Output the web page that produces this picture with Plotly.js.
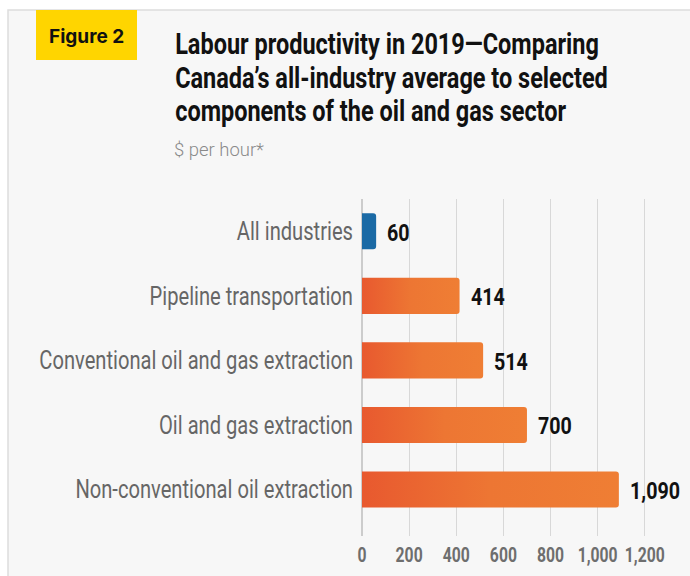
<!DOCTYPE html>
<html>
<head>
<meta charset="utf-8">
<script src="https://cdn.plot.ly/plotly-3.0.1.min.js"></script>
<style>
  html, body { margin: 0; padding: 0; background: #ffffff; }
  #chart { width: 690px; height: 576px; }
</style>
</head>
<body>
<div id="chart"></div>
<script>
// Labour productivity by industry, 2019 ($ per hour)
const categories = [
  'All industries',
  'Pipeline transportation',
  'Conventional oil and gas extraction',
  'Oil and gas extraction',
  'Non-conventional oil extraction'
];
const values = [60, 414, 514, 700, 1090];
const valueLabels = ['60', '414', '514', '700', '1,090'];
const groups = ['all', 'oil', 'oil', 'oil', 'oil'];
const xTickVals = [0, 200, 400, 600, 800, 1000, 1200];
const titleLines = [
  'Labour productivity in 2019\u2014Comparing',
  'Canada\u2019s all-industry average to selected',
  'components of the oil and gas sector'
];

const groupColors = { all: '#1b6aa5', oil: '#ec6a31' };
const FONT = 'Roboto, "Liberation Sans", Arial, sans-serif';

// plot area in pixels
const W = 690, H = 576;
const M = { l: 362, r: 24, t: 199, b: 40 };
const PW = W - M.l - M.r, PH = H - M.t - M.b;
const px2x = p => (p - M.l) / PW;
const px2y = p => (H - M.b - p) / PH;

const trace = {
  type: 'bar',
  orientation: 'h',
  y: categories,
  x: values,
  cliponaxis: false,
  marker: { color: groups.map(g => groupColors[g]), line: { width: 0 } },
  hoverinfo: 'skip'
};

// title, one annotation per line with tight leading
const TITLE_TOP = 44, TITLE_LEAD = 33.6;
const titleNotes = titleLines.map((t, i) => ({
  text: t, xref: 'paper', yref: 'paper',
  x: px2x(173), y: px2y(TITLE_TOP + i * TITLE_LEAD),
  xanchor: 'left', yanchor: 'middle', showarrow: false,
  font: { family: FONT, size: 29, color: '#111111', weight: 700 }
}));

// value labels sit just past the end of each bar
const valueNotes = values.map((v, i) => ({
  x: v, y: categories[i], xref: 'x', yref: 'y',
  text: valueLabels[i], showarrow: false,
  xanchor: 'left', yanchor: 'middle', xshift: 9, yshift: -2,
  font: { family: FONT, size: 23, color: '#111111', weight: 700 }
}));

const layout = {
  width: W,
  height: H,
  margin: M,
  paper_bgcolor: '#ffffff',
  plot_bgcolor: 'rgba(0,0,0,0)',
  showlegend: false,
  bargap: 0.44,
  barcornerradius: 3,
  xaxis: {
    range: [0, 1290],
    tickvals: xTickVals,
    tickformat: ',',
    tickangle: 0,
    showgrid: true,
    gridcolor: '#d8d8d8',
    gridwidth: 1,
    zeroline: true,
    zerolinecolor: '#cccccc',
    zerolinewidth: 1.5,
    showline: false,
    ticks: '',
    ticklabelstandoff: 4,
    tickfont: { family: FONT, size: 21, color: '#6e6e6e', weight: 700 },
    fixedrange: true
  },
  yaxis: {
    type: 'category',
    range: [4.72, -0.5],
    showgrid: false,
    zeroline: false,
    showline: false,
    ticks: '',
    ticklabelstandoff: 8,
    tickfont: { family: FONT, size: 25, color: '#666666' },
    fixedrange: true
  },
  shapes: [
    // light panel behind the chart
    {
      type: 'rect', xref: 'paper', yref: 'paper', layer: 'below',
      x0: px2x(8), x1: px2x(720), y0: px2y(10), y1: px2y(600),
      fillcolor: '#f7f7f7', line: { color: '#dddddd', width: 1.5 }
    },
    // "Figure 2" tag
    {
      type: 'rect', xref: 'paper', yref: 'paper', layer: 'below',
      x0: px2x(36), x1: px2x(137), y0: px2y(10), y1: px2y(60),
      fillcolor: '#ffd500', line: { width: 0 }
    }
  ],
  annotations: [
    {
      text: 'Figure 2', xref: 'paper', yref: 'paper',
      x: px2x(86.5), y: px2y(36), xanchor: 'center', yanchor: 'middle',
      showarrow: false,
      font: { family: 'Inter, Roboto, sans-serif', size: 19, color: '#111111', weight: 700 }
    },
    {
      text: '$ per hour*', xref: 'paper', yref: 'paper',
      x: px2x(172), y: px2y(149), xanchor: 'left', yanchor: 'middle',
      showarrow: false,
      font: { family: FONT, size: 19, color: '#8a8a8a', weight: 300 }
    }
  ].concat(titleNotes, valueNotes)
};

// Narrow a text element horizontally, holding one edge (or its centre) in place.
function condense(el, s, hold) {
  const b = el.getBBox();
  const ax = hold === 'left' ? b.x : hold === 'right' ? b.x + b.width : b.x + b.width / 2;
  const t = el.getAttribute('transform') || '';
  el.setAttribute('transform', `${t} translate(${ax},0) scale(${s},1) translate(${-ax},0)`);
}
function widest(els) {
  return Math.max(...els.map(e => e.getBBox().width));
}

Plotly.newPlot('chart', [trace], layout, { staticPlot: true, displayModeBar: false }).then(gd => {
  const svg = gd.querySelector('svg.main-svg');
  const ns = 'http://www.w3.org/2000/svg';

  // horizontal red-to-orange shading on the oil and gas bars
  let defs = svg.querySelector('defs');
  if (!defs) { defs = document.createElementNS(ns, 'defs'); svg.insertBefore(defs, svg.firstChild); }
  const grad = document.createElementNS(ns, 'linearGradient');
  grad.setAttribute('id', 'oilGrad');
  grad.setAttribute('x1', '0'); grad.setAttribute('x2', '1');
  grad.setAttribute('y1', '0'); grad.setAttribute('y2', '0');
  [['0', '#e8592f'], ['0.5', '#ed7633'], ['1', '#ef7e34']].forEach(([o, c]) => {
    const s = document.createElementNS(ns, 'stop');
    s.setAttribute('offset', o); s.setAttribute('stop-color', c);
    grad.appendChild(s);
  });
  defs.appendChild(grad);
  gd.querySelectorAll('.barlayer .point path').forEach((p, i) => {
    if (groups[i] === 'oil') p.style.fill = 'url(#oilGrad)';
  });

  // condensed lettering throughout
  const yLabels = Array.from(gd.querySelectorAll('.yaxislayer-above .ytick text'));
  const ys = 314 / widest(yLabels);
  yLabels.forEach(el => condense(el, ys, 'right'));

  const xLabels = Array.from(gd.querySelectorAll('.xaxislayer-above .xtick text'));
  const xs = 40 / widest(xLabels);
  xLabels.forEach(el => condense(el, xs, 'middle'));

  const notes = Array.from(gd.querySelectorAll('.annotation')).map(n => n.querySelector('text'));
  const unit = notes[1];
  condense(unit, 90 / unit.getBBox().width, 'left');

  const tLines = notes.slice(2, 2 + titleLines.length);
  const ts = 433 / widest(tLines);
  tLines.forEach(el => condense(el, ts, 'left'));

  const vals = notes.slice(2 + titleLines.length);
  const vs = 50 / widest(vals);
  vals.forEach(el => condense(el, vs, 'left'));
});
</script>
</body>
</html>
